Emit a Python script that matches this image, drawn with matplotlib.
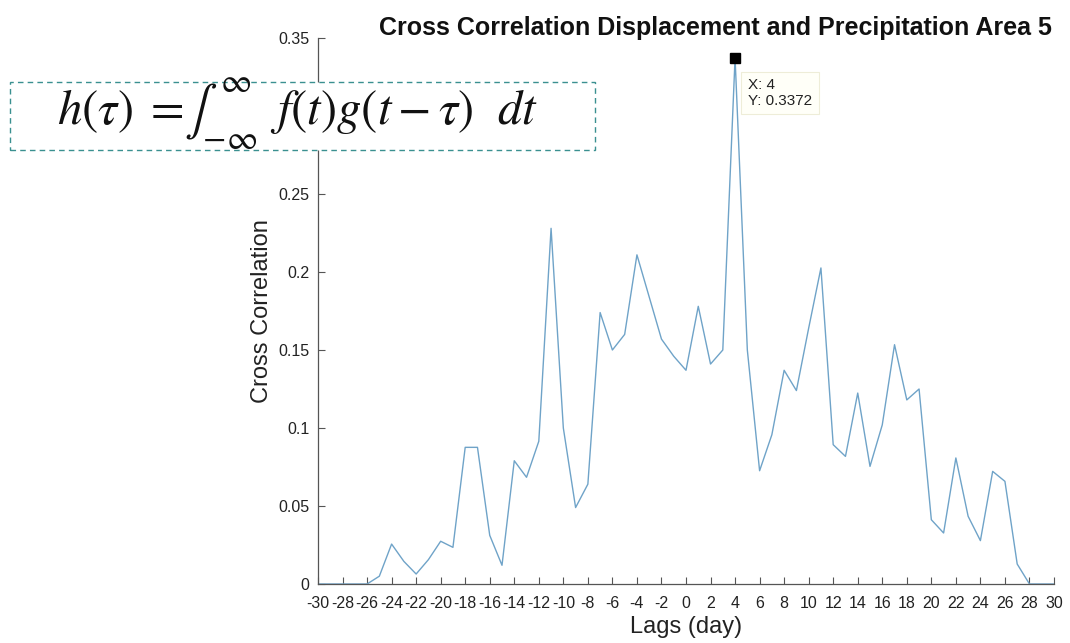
import matplotlib
matplotlib.use("Agg")
import matplotlib.pyplot as plt
from matplotlib.patches import Rectangle

plt.rcParams['font.family'] = ['Liberation Sans', 'DejaVu Sans']
plt.rcParams['axes.unicode_minus'] = False
plt.rcParams['mathtext.fontset'] = 'stix'

# ---- data ----
lags = list(range(-30, 31))
xcorr = [0, 0, 0, 0, 0,
         0.005, 0.0256, 0.0145, 0.0064, 0.0156, 0.0274, 0.0235, 0.0876, 0.0876, 0.0312,
         0.012, 0.079, 0.0684, 0.0915, 0.228, 0.100, 0.049, 0.064, 0.174, 0.150,
         0.160, 0.211, 0.184, 0.157, 0.146, 0.137, 0.178, 0.141, 0.150, 0.3372,
         0.150, 0.0726, 0.0957, 0.137, 0.124, 0.164, 0.2026, 0.0893, 0.0818, 0.1224,
         0.0754, 0.102, 0.1534, 0.118, 0.125, 0.0412, 0.0327, 0.0808, 0.0434, 0.0278,
         0.0722, 0.0658, 0.0128, 0, 0, 0]
xticks = list(range(-30, 31, 2))
xtick_labels = [str(v) for v in xticks]
yticks = [0, 0.05, 0.1, 0.15, 0.2, 0.25, 0.3, 0.35]
ytick_labels = ['0', '0.05', '0.1', '0.15', '0.2', '0.25', '0.3', '0.35']
tip_lag = 4
tip_value = 0.3372
tip_text = 'X: 4\nY: 0.3372'
title = 'Cross Correlation Displacement and Precipitation Area 5'
xlabel = 'Lags (day)'
ylabel = 'Cross Correlation'
formula = r'$h(\tau)\;{=}\!\int_{-\infty}^{\infty}\;\;f(t)g(t-\tau)\ \ dt$'

W, H = 1070, 643
fig = plt.figure(figsize=(W / 100, H / 100), dpi=100)
ax = fig.add_axes([318 / W, 1 - 584 / H, (1054 - 318) / W, (584 - 38) / H])

ax.plot(lags, xcorr, color='#6fa3c8', lw=1.0)
ax.plot([tip_lag], [tip_value], marker='s', color='black', ms=7, zorder=5)

ax.set_xlim(-30, 30)
ax.set_ylim(0, 0.35)
ax.set_xticks(xticks)
ax.set_xticklabels(xtick_labels)
ax.set_yticks(yticks)
ax.set_yticklabels(ytick_labels)
# the 0.3 label sits under the formula box in the reference
for lab in ax.get_yticklabels():
    if lab.get_text() == '0.3':
        lab.set_visible(False)
for s in ['top', 'right']:
    ax.spines[s].set_visible(False)
for s in ['left', 'bottom']:
    ax.spines[s].set_color('#555555')
    ax.spines[s].set_linewidth(0.9)
ax.tick_params(direction='in', length=5, width=0.8, color='#555555',
               labelsize=11.5, labelcolor='#222222')
ax.tick_params(axis='x', pad=9)
ax.tick_params(axis='y', pad=6)
ax.set_xlabel(xlabel, fontsize=17, color='#222222', labelpad=3)
ax.set_ylabel(ylabel, fontsize=17, color='#222222', labelpad=4)

fig.text(715 / W, 1 - 28 / H, title, ha='center', va='center',
         fontsize=18, fontweight='bold', color='#111111')

# data tip
fig.text(748 / W, 1 - 93 / H, tip_text, ha='left', va='center',
         fontsize=11, color='#222222', linespacing=1.1,
         bbox=dict(boxstyle='square,pad=0.45', fc='#fffff8', ec='#eeedd8', lw=0.8))

# formula box
rect = Rectangle((10 / W, 1 - 150 / H), 585 / W, 68 / H, transform=fig.transFigure,
                 facecolor='white', edgecolor='#3a9090', lw=1.0, ls=(0, (4, 3)),
                 zorder=10)
fig.patches.append(rect)
fig.text(298 / W, 1 - 114 / H, formula, ha='center', va='center',
         fontsize=35, color='#111111', zorder=11)

fig.savefig('out.png', dpi=100)
